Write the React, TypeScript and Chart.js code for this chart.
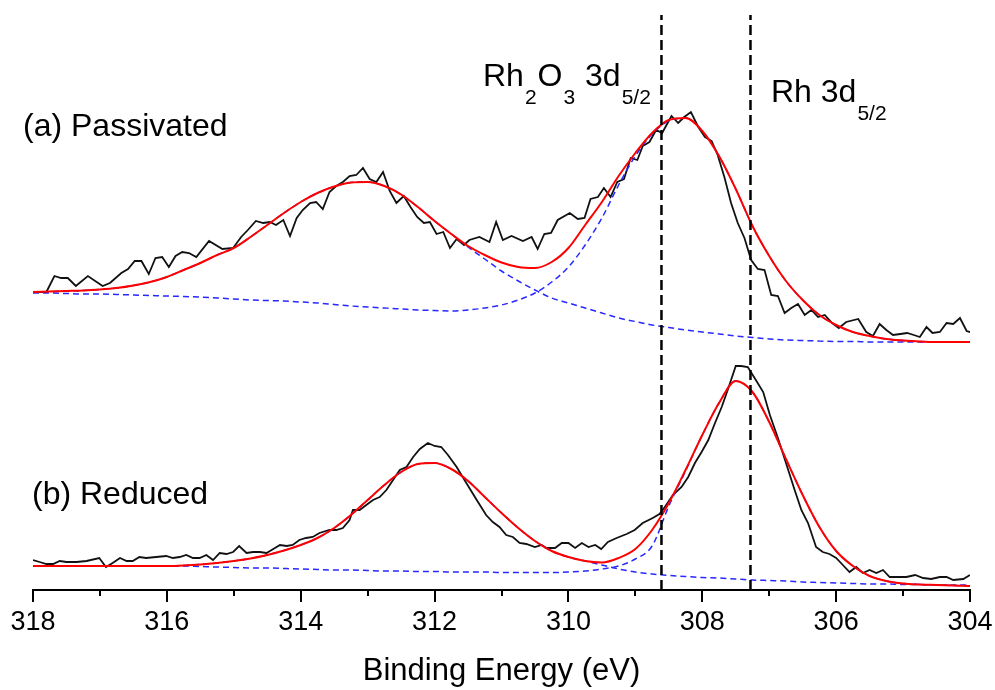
import React, { useEffect, useRef } from 'react';
import { Chart, registerables } from 'chart.js';

Chart.register(...registerables);

const FONT = "'Liberation Sans', Arial, Helvetica, sans-serif";

// ---------- x axis ----------
const xMin = 304;
const xMax = 318;
const xStep = 2;
const minorTickValues = [317, 315, 313, 311, 309, 307, 305];
const markerEnergies = [308.61, 307.28];
const markerTop = 575;

// ---------- (a) Passivated : measured spectrum ----------
const passivatedEnergy = [
  317.95, 317.8, 317.68, 317.58, 317.48, 317.36, 317.18, 316.96, 316.85, 316.68,
  316.58, 316.48, 316.38, 316.27, 316.17, 316.07, 315.97, 315.87, 315.77, 315.67,
  315.56, 315.37, 315.17, 315.01, 314.89, 314.79, 314.67, 314.56, 314.46, 314.37,
  314.26, 314.16, 314.06, 313.97, 313.86, 313.77, 313.67, 313.57, 313.47, 313.37,
  313.27, 313.17, 313.07, 312.97, 312.87, 312.77, 312.67, 312.57, 312.46, 312.36,
  312.26, 312.16, 312.07, 311.97, 311.87, 311.77, 311.67, 311.56, 311.48, 311.33,
  311.18, 311.08, 310.98, 310.85, 310.68, 310.55, 310.46, 310.36, 310.26, 310.16,
  309.98, 309.86, 309.76, 309.67, 309.56, 309.47, 309.37, 309.27, 309.17, 309.07,
  308.97, 308.89, 308.79, 308.69, 308.6, 308.46, 308.36, 308.27, 308.17, 308.06,
  307.96, 307.86, 307.77, 307.67, 307.57, 307.47, 307.37, 307.27, 307.17, 307.07,
  306.97, 306.87, 306.77, 306.67, 306.57, 306.47, 306.37, 306.27, 306.17, 306.06,
  305.96, 305.85, 305.67, 305.55, 305.45, 305.35, 305.25, 305.15, 305.04, 304.94,
  304.84, 304.75, 304.65, 304.56, 304.45, 304.35, 304.25, 304.15, 304.05, 303.95,
];
const passivatedCounts = [
  298, 298, 314, 312, 312, 304, 314, 304, 307, 317,
  321, 329, 329, 316, 332, 333, 323, 334, 338, 337,
  333, 349, 341, 342, 353, 360, 369, 367, 368, 365,
  370, 354, 372, 380, 387, 388, 381, 398, 404, 408,
  414, 415, 422, 411, 408, 418, 399, 387, 394, 383,
  373, 367, 368, 356, 358, 342, 351, 345, 350, 353,
  348, 368, 350, 354, 349, 353, 341, 356, 357, 370,
  377, 371, 372, 391, 393, 402, 393, 408, 411, 432,
  430, 444, 448, 460, 457, 474, 467, 473, 478, 463,
  453, 449, 435, 413, 387, 367, 352, 330, 321, 320,
  295, 294, 277, 282, 286, 275, 280, 273, 275, 267,
  262, 268, 271, 258, 254, 266, 260, 255, 256, 257,
  255, 253, 263, 257, 258, 267, 266, 272, 259, 257,
];

// ---------- (b) Reduced : measured spectrum ----------
const reducedEnergy = [
  318.0, 317.9, 317.8, 317.7, 317.6, 317.5, 317.35, 317.2, 317.01, 316.91,
  316.81, 316.7, 316.6, 316.51, 316.41, 316.31, 316.16, 316.01, 315.91, 315.81,
  315.71, 315.61, 315.51, 315.41, 315.31, 315.21, 315.11, 315.01, 314.92, 314.81,
  314.71, 314.61, 314.51, 314.41, 314.31, 314.21, 314.12, 314.02, 313.92, 313.82,
  313.72, 313.57, 313.47, 313.37, 313.27, 313.22, 313.12, 313.02, 312.92, 312.82,
  312.72, 312.62, 312.52, 312.42, 312.32, 312.22, 312.1, 312.0, 311.9, 311.8,
  311.67, 311.58, 311.48, 311.37, 311.23, 311.13, 311.03, 310.93, 310.83, 310.73,
  310.63, 310.5, 310.4, 310.33, 310.2, 310.1, 310.0, 309.9, 309.8, 309.7,
  309.6, 309.51, 309.41, 309.28, 309.13, 309.01, 308.89, 308.74, 308.64, 308.56,
  308.44, 308.31, 308.21, 308.11, 308.01, 307.91, 307.81, 307.71, 307.62, 307.5,
  307.42, 307.32, 307.2, 307.09, 306.99, 306.87, 306.74, 306.62, 306.52, 306.42,
  306.3, 306.2, 306.1, 306.0, 305.9, 305.8, 305.7, 305.6, 305.5, 305.4,
  305.3, 305.2, 305.05, 304.95, 304.82, 304.7, 304.58, 304.45, 304.35, 304.25,
  304.1, 304.0,
];
const reducedCounts = [
  30, 28, 26, 26, 29, 28, 28, 29, 32, 23,
  27, 32, 29, 29, 33, 32, 33, 34, 32, 33,
  35, 32, 32, 35, 30, 37, 36, 38, 44, 37,
  38, 38, 37, 41, 45, 44, 45, 50, 52, 53,
  57, 60, 60, 62, 70, 80, 80, 85, 90, 93,
  100, 110, 120, 123, 133, 141, 147, 144, 143, 135,
  123, 113, 102, 90, 75, 68, 63, 55, 53, 47,
  46, 43, 45, 42, 42, 47, 47, 42, 47, 43,
  45, 41, 48, 52, 56, 60, 67, 72, 76, 83,
  95, 103, 113, 127, 138, 150, 167, 183, 200, 224,
  224, 223, 210, 198, 175, 152, 125, 100, 80, 67,
  43, 38, 36, 32, 25, 18, 23, 17, 20, 17,
  20, 13, 13, 13, 15, 12, 11, 13, 13, 10,
  11, 15,
];

// ---------- fitted curves (read at 0.25 eV steps) ----------
const fitEnergy = [
  318.0, 317.75, 317.5, 317.25, 317.0, 316.75, 316.5, 316.25, 316.0, 315.75,
  315.5, 315.25, 315.0, 314.75, 314.5, 314.25, 314.0, 313.75, 313.5, 313.25,
  313.0, 312.75, 312.5, 312.25, 312.0, 311.75, 311.5, 311.25, 311.0, 310.75,
  310.5, 310.25, 310.0, 309.75, 309.5, 309.25, 309.0, 308.75, 308.5, 308.25,
  308.0, 307.75, 307.5, 307.25, 307.0, 306.75, 306.5, 306.25, 306.0, 305.75,
  305.5, 305.25, 305.0, 304.75, 304.5, 304.25, 304.0,
];

// (a) envelope
const passivatedFit = [
  298, 298.5, 299, 299.5, 300.5, 302, 304.5, 308, 313, 320,
  327, 335, 342, 353, 365, 377, 388, 397, 403.5, 407.5,
  408, 404, 395.5, 383, 369, 356, 344, 335, 327.5, 323,
  322, 328, 342, 365, 388, 414, 437, 457, 470, 472,
  459, 434, 401, 364, 334, 309, 290, 275, 265, 258,
  254, 251, 249.5, 248.5, 248, 248, 248,
];
// (a) component near 313 eV
const passivatedPeak1 = [
  298, 298.5, 299, 299.5, 300.5, 302, 304.5, 308, 313, 320,
  327, 335, 342, 353, 365, 377, 388, 397, 403.5, 407.5,
  408, 404, 395.5, 383, 369, 356, 343, 331, 319, 309,
  300, 292, 287, 282, 277, 272, 268.5, 265, 262.5, 260,
  258, 256, 254, 252.5, 251, 250, 249.5, 249, 248.5, 248.5,
  248, 248, 248, 248, 248, 248, 248,
];
// (a) component near 308.4 eV (Rh2O3)
const passivatedPeak2 = [
  297, 297, 296.5, 296, 296, 295.5, 295, 294.5, 294, 293.5,
  293, 292, 291, 290, 289.5, 289, 288, 287, 285.5, 284,
  283, 282, 281, 280, 279.5, 279, 280, 282, 285, 290,
  297, 308, 323, 345, 372, 405, 434, 456, 469, 472,
  459, 434, 401, 364, 334, 309, 290, 275, 265, 258,
  254, 251, 249.5, 248.5, 248, 248, 248,
];

// (b) envelope
const reducedFit = [
  24, 24, 24, 24, 24, 24, 24, 24, 24, 24.5,
  25.5, 27, 29, 31.5, 35, 39.5, 45, 52, 62, 75,
  90, 105, 118, 126, 127, 121, 109, 93, 77, 62,
  49, 39, 33, 29, 27.5, 32, 41, 60, 87, 120,
  155, 187, 209, 198, 168, 131, 95, 63, 39, 24,
  14, 9, 6.5, 5.5, 5, 4.5, 4,
];
// (b) component near 312 eV
const reducedPeak1 = [
  24, 24, 24, 24, 24, 24, 24, 24, 24, 24.5,
  25.5, 27, 29, 31.5, 35, 39.5, 45, 52, 62, 75,
  90, 105, 118, 126, 127, 121, 109, 93, 77, 62,
  49, 39, 33, 29, 25, 21, 18, 16, 14.5, 13.5,
  12.5, 12, 11, 10, 9.5, 9, 8, 7.5, 7, 6.5,
  6, 6, 5.5, 5.5, 5, 5, 5,
];
// (b) component near 307.5 eV (Rh metal)
const reducedPeak2 = [
  24, 24, 24, 24, 24, 24, 24, 24, 24, 24,
  23.5, 23, 22.5, 22, 22, 21.5, 21, 20.5, 20, 20,
  19.5, 19, 19, 18.5, 18.5, 18, 18, 18, 17.5, 17.5,
  17.5, 17.5, 18, 19, 21, 24, 31, 44, 84, 119,
  155, 187, 209, 198, 168, 131, 95, 63, 39, 24,
  14, 9, 6.5, 5.5, 5, 4.5, 4,
];

// ---------- text annotations ----------
type Seg = { t: string; sub?: boolean };
const annotations: { x: number; y: number; segs: Seg[] }[] = [
  { x: 23, y: 136, segs: [{ t: '(a) Passivated' }] },
  { x: 32, y: 504, segs: [{ t: '(b) Reduced' }] },
  {
    x: 483,
    y: 86,
    segs: [
      { t: 'Rh' },
      { t: '2', sub: true },
      { t: 'O' },
      { t: '3', sub: true },
      { t: ' 3d' },
      { t: '5/2', sub: true },
    ],
  },
  { x: 771, y: 102, segs: [{ t: 'Rh 3d' }, { t: '5/2', sub: true }] },
];

const pts = (xs: number[], ys: number[]) => xs.map((x, i) => ({ x, y: ys[i] }));

const decorations = {
  id: 'decorations',
  afterDraw(chart: any) {
    const { ctx } = chart;
    const xs = chart.scales.x;
    const top = xs.top;
    ctx.save();
    ctx.strokeStyle = '#000';
    ctx.lineWidth = 2;
    for (const v of minorTickValues) {
      const px = Math.round(xs.getPixelForValue(v));
      ctx.beginPath();
      ctx.moveTo(px, top);
      ctx.lineTo(px, top + 6);
      ctx.stroke();
    }
    ctx.fillStyle = '#000';
    ctx.textBaseline = 'alphabetic';
    ctx.textAlign = 'left';
    for (const a of annotations) {
      let cx = a.x;
      for (const s of a.segs) {
        ctx.font = s.sub ? `21px ${FONT}` : `32px ${FONT}`;
        if (s.sub) cx += 1;
        ctx.fillText(s.t, cx, s.sub ? a.y + 18 : a.y);
        cx += ctx.measureText(s.t).width + (s.sub ? 1 : 0);
      }
    }
    ctx.restore();
  },
};

export default function App() {
  const ref = useRef<HTMLCanvasElement | null>(null);

  useEffect(() => {
    if (!ref.current) return;
    const black = { borderColor: '#111111', borderWidth: 1.8, tension: 0, pointRadius: 0, order: 3 };
    const red = {
      borderColor: '#ff0000',
      borderWidth: 2,
      cubicInterpolationMode: 'monotone' as const,
      pointRadius: 0,
      order: 1,
    };
    const blue = {
      borderColor: 'rgb(40,40,255)',
      borderWidth: 1.5,
      borderDash: [6, 4],
      cubicInterpolationMode: 'monotone' as const,
      pointRadius: 0,
      order: 2,
    };
    const marker = { borderColor: '#000', borderWidth: 2.5, borderDash: [10, 5], tension: 0, pointRadius: 0, order: 0 };
    const vline = (e: number) => [
      { x: e, y: 0 },
      { x: e, y: markerTop },
    ];

    const chart = new Chart(ref.current, {
      type: 'line',
      data: {
        datasets: [
          { label: 'Rh2O3 3d5/2', data: vline(markerEnergies[0]), ...marker },
          { label: 'Rh 3d5/2', data: vline(markerEnergies[1]), ...marker },
          { label: '(a) fit', data: pts(fitEnergy, passivatedFit), ...red },
          { label: '(a) peak 1', data: pts(fitEnergy, passivatedPeak1), ...blue },
          { label: '(a) peak 2', data: pts(fitEnergy, passivatedPeak2), ...blue },
          { label: '(a) data', data: pts(passivatedEnergy, passivatedCounts), ...black },
          { label: '(b) fit', data: pts(fitEnergy, reducedFit), ...red },
          { label: '(b) peak 1', data: pts(fitEnergy, reducedPeak1), ...blue },
          { label: '(b) peak 2', data: pts(fitEnergy, reducedPeak2), ...blue },
          { label: '(b) data', data: pts(reducedEnergy, reducedCounts), ...black },
        ] as any,
      },
      options: {
        responsive: false,
        devicePixelRatio: 1,
        animation: false,
        events: [],
        layout: { padding: { left: 33, right: 25, top: 10, bottom: 0 } },
        plugins: { legend: { display: false }, tooltip: { enabled: false }, title: { display: false } },
        elements: { point: { radius: 0 }, line: { fill: false } },
        scales: {
          x: {
            type: 'linear',
            reverse: true,
            min: xMin,
            max: xMax,
            ticks: {
              stepSize: xStep,
              color: '#000',
              font: { family: FONT, size: 27, lineHeight: 1.4 },
              padding: 2,
              maxRotation: 0,
              autoSkip: false,
              callback: (v: any) => String(v),
            },
            grid: { drawOnChartArea: false, drawTicks: true, tickLength: 12, color: '#000', lineWidth: 2 },
            border: { display: true, color: '#000', width: 2 },
            title: {
              display: true,
              text: 'Binding Energy (eV)',
              color: '#000',
              font: { family: FONT, size: 31 },
              padding: { top: 9, bottom: 0 },
            },
          },
          y: { type: 'linear', display: false, min: 0, max: 580 },
        },
      } as any,
      plugins: [decorations],
    });
    return () => chart.destroy();
  }, []);

  return (
    <div style={{ position: 'fixed', left: 0, top: 0, width: 995, height: 690, background: '#fff' }}>
      <canvas ref={ref} width={995} height={690} style={{ display: 'block', width: 995, height: 690 }} />
    </div>
  );
}
